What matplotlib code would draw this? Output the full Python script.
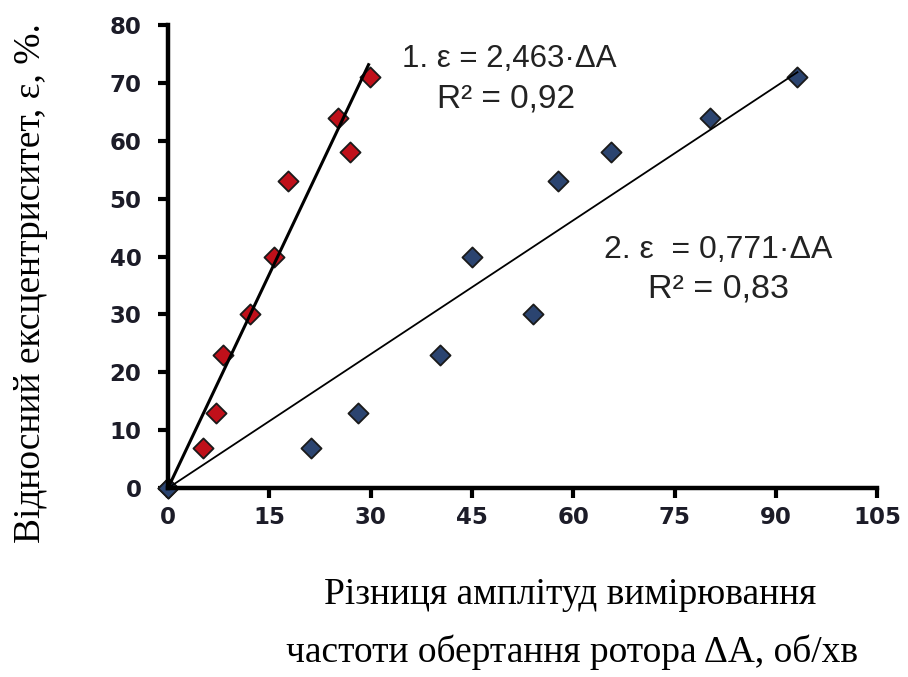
import matplotlib
matplotlib.use("Agg")
import matplotlib.pyplot as plt
import numpy as np

# Measured eccentricity (%) versus amplitude difference (rpm) for two rotor cases
eps_values = [0, 7, 13, 23, 30, 40, 53, 58, 64, 71]
dA_series1 = [0, 5.2, 7.1, 8.2, 12.1, 15.7, 17.7, 27.0, 25.2, 29.9]
dA_series2 = [0, 21.2, 28.2, 40.3, 54.0, 45.0, 57.7, 65.6, 80.3, 93.2]

# Linear fits through the origin
slope1, r2_1 = 2.463, 0.92
slope2, r2_2 = 0.771, 0.83
fit1_xmax = 29.7
fit2_xmax = 93.2

x_ticks = [0, 15, 30, 45, 60, 75, 90, 105]
y_ticks = [0, 10, 20, 30, 40, 50, 60, 70, 80]


def uk(v):
    return str(v).replace(".", ",")


fig = plt.figure(figsize=(9.08, 6.77), dpi=100)
ax = fig.add_axes([0.185, 0.279, 0.781, 0.684])

ax.scatter(dA_series1, eps_values, marker="D", s=105, facecolor="#C0101A",
           edgecolor="#1a1a1a", linewidth=1.3, zorder=3, clip_on=False)
ax.scatter(dA_series2, eps_values, marker="D", s=105, facecolor="#2B4470",
           edgecolor="#1a1a1a", linewidth=1.3, zorder=3, clip_on=False)

xf1 = np.array([0, fit1_xmax])
xf2 = np.array([0, fit2_xmax])
ax.plot(xf1, slope1 * xf1, color="black", linewidth=2.2, zorder=4)
ax.plot(xf2, slope2 * xf2, color="black", linewidth=1.3, zorder=4)

ax.set_xlim(0, 105)
ax.set_ylim(0, 80)
ax.set_xticks(x_ticks)
ax.set_yticks(y_ticks)
ax.set_xticklabels([str(v) for v in x_ticks])
ax.set_yticklabels([str(v) for v in y_ticks])

for side in ("top", "right"):
    ax.spines[side].set_visible(False)
for side in ("left", "bottom"):
    ax.spines[side].set_linewidth(3.2)
    ax.spines[side].set_color("black")
    ax.spines[side].set_capstyle("projecting")
    ax.spines[side].set_zorder(5)

ax.tick_params(axis="both", direction="out", length=7, width=3.0,
               color="black", labelcolor="#1c1c28")
ax.tick_params(axis="x", pad=6)
ax.tick_params(axis="y", pad=12)
for lab in ax.get_xticklabels() + ax.get_yticklabels():
    lab.set_fontfamily("DejaVu Sans")
    lab.set_fontweight("bold")
    lab.set_fontsize(16.5)

ann_kw = dict(fontfamily="Liberation Sans", color="#222222",
              ha="center", va="baseline")
fig.text(509 / 908, 1 - 67 / 677, f"1. ε = {uk(slope1)}·ΔA", fontsize=22.5, **ann_kw)
fig.text(506 / 908, 1 - 107 / 677, f"R² = {uk(r2_1)}", fontsize=24, **ann_kw)
fig.text(718 / 908, 1 - 258 / 677, f"2. ε  = {uk(slope2)}·ΔA", fontsize=23, **ann_kw)
fig.text(718 / 908, 1 - 297 / 677, f"R² = {uk(r2_2)}", fontsize=24.5, **ann_kw)

lab_kw = dict(fontfamily="Liberation Serif", fontsize=27, color="black")
fig.text(40 / 908, 1 - 283 / 677, "Відносний ексцентриситет, ε, %.",
         rotation=90, rotation_mode="anchor", ha="center", va="baseline", **lab_kw)
fig.text(570 / 908, 1 - 604 / 677, "Різниця амплітуд вимірювання",
         ha="center", va="baseline", **lab_kw)
fig.text(572 / 908, 1 - 662 / 677, "частоти обертання ротора ΔA, об/хв",
         ha="center", va="baseline", **lab_kw)

fig.savefig("out.png", dpi=100)
